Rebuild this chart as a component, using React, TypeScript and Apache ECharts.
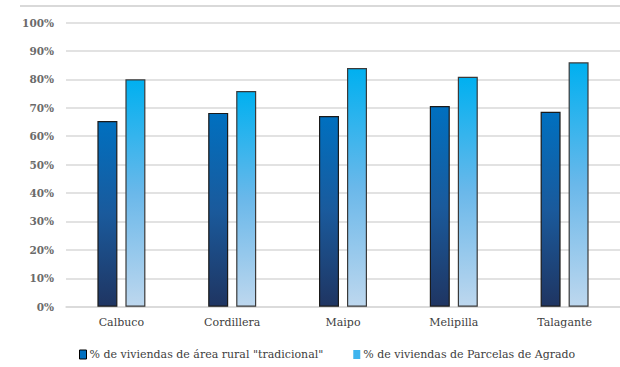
import React, { useEffect, useRef } from "react";
import * as echarts from "echarts";

const categories = ["Calbuco", "Cordillera", "Maipo", "Melipilla", "Talagante"];
const ruralTradicional = [65.3, 68.2, 67.1, 70.6, 68.6];
const parcelasAgrado = [80.0, 75.9, 84.0, 80.9, 86.0];
const seriesNames = [
  '% de viviendas de área rural "tradicional"',
  "% de viviendas de Parcelas de Agrado",
];

const FONT = "DejaVu Serif";

export default function App() {
  const ref = useRef<HTMLDivElement>(null);
  useEffect(() => {
    if (!ref.current) return;
    document.body.style.margin = "0";
    const chart = echarts.init(ref.current, undefined, { renderer: "svg" });
    const darkGrad = new echarts.graphic.LinearGradient(0, 0, 0, 1, [
      { offset: 0, color: "#0070C0" },
      { offset: 0.5, color: "#1A5A9C" },
      { offset: 1, color: "#1F3562" },
    ]);
    const lightGrad = new echarts.graphic.LinearGradient(0, 0, 0, 1, [
      { offset: 0, color: "#00B0F0" },
      { offset: 0.5, color: "#6AB8EA" },
      { offset: 1, color: "#BDD7EE" },
    ]);
    chart.setOption({
      animation: false,
      backgroundColor: "#ffffff",
      graphic: [
        {
          type: "line",
          shape: { x1: 20, y1: 6, x2: 620, y2: 6 },
          style: { stroke: "#d9d9d9", lineWidth: 2 },
        },
      ],
      grid: { left: 66, right: -2, top: 22.5, bottom: 60.3 },
      legend: {
        left: 74,
        top: 344,
        itemWidth: 7,
        itemHeight: 9,
        itemGap: 30,
        textStyle: { fontFamily: FONT, fontSize: 11, color: "#404040", padding: [0, 0, 0, -2] },
        data: [
          {
            name: seriesNames[0],
            icon: "rect",
            itemStyle: { color: "#0070C0", borderColor: "#000", borderWidth: 1 },
          },
          {
            name: seriesNames[1],
            icon: "rect",
            itemStyle: { color: "#3FB4EE", borderWidth: 0 },
          },
        ],
      },
      xAxis: {
        type: "category",
        data: categories,
        axisLine: { lineStyle: { color: "#d9d9d9", width: 1.5 } },
        axisTick: { show: false },
        axisLabel: { fontFamily: FONT, fontSize: 11, color: "#404040", margin: 10 },
      },
      yAxis: {
        type: "value",
        min: 0,
        max: 100,
        interval: 10,
        axisLine: { show: false },
        axisTick: { show: false },
        axisLabel: {
          fontFamily: FONT,
          fontSize: 10.5,
          color: "#6a6a6a",
          margin: 12,
          fontWeight: "bold",
          formatter: "{value}%",
        },
        splitLine: { lineStyle: { color: "#d9d9d9", width: 1.5 } },
      },
      series: [
        {
          name: seriesNames[0],
          type: "bar",
          data: ruralTradicional,
          barWidth: 20,
          barGap: "40%",
          itemStyle: { color: darkGrad, borderColor: "#1a1a1a", borderWidth: 1.2 },
        },
        {
          name: seriesNames[1],
          type: "bar",
          data: parcelasAgrado,
          barWidth: 20,
          barGap: "40%",
          itemStyle: { color: lightGrad, borderColor: "#3a3a3a", borderWidth: 1.2 },
        },
      ],
    });
    return () => chart.dispose();
  }, []);
  return <div ref={ref} style={{ width: 620, height: 367 }} />;
}
